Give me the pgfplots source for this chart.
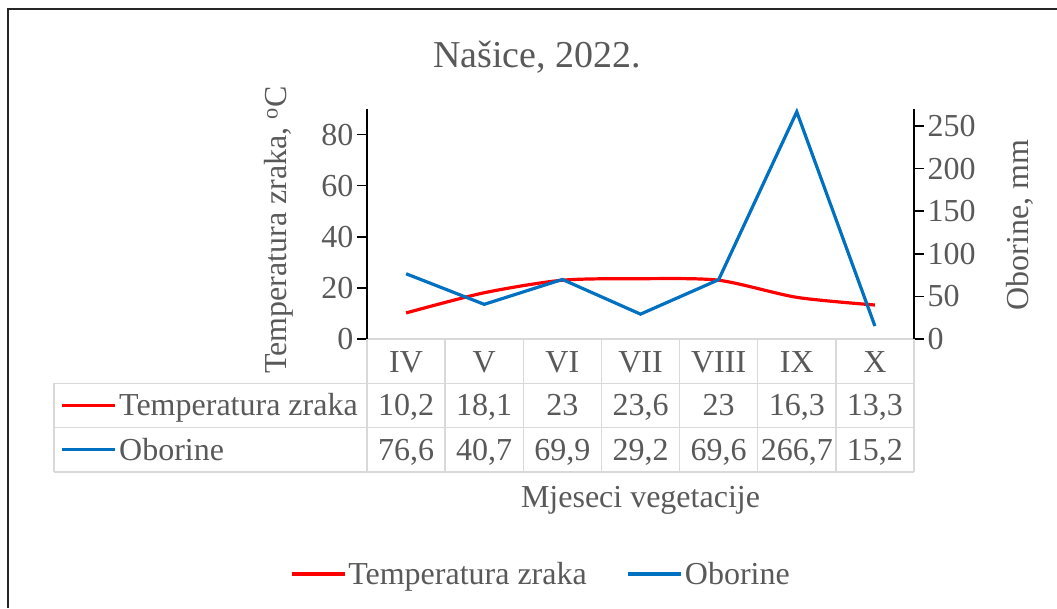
\documentclass[border=0pt]{standalone}
\usepackage{pgfplots}
\pgfplotsset{compat=1.18}
\usepackage{pgfplotstable}
\usepackage{fontspec}
\setmainfont{Liberation Serif}
\definecolor{txt}{HTML}{595959}
\definecolor{gridc}{HTML}{D9D9D9}
\definecolor{ored}{HTML}{FF0000}
\definecolor{oblue}{HTML}{0070C0}

\pgfplotstableread{
x lab temp obor
0 IV 10.2 76.6
1 V 18.1 40.7
2 VI 23 69.9
3 VII 23.6 29.2
4 VIII 23 69.6
5 IX 16.3 266.7
6 X 13.3 15.2
}\data

\newcommand\fs{\fontsize{32}{37}\selectfont}
\pgfkeys{/pgf/number format/assume math mode=true}

\pgfplotsset{common/.style={
  scale only axis, width=547pt, height=230pt,
  at={(0pt,0pt)}, anchor=south west,
  xmin=-0.5, xmax=6.5, xtick={0,...,6},
  /pgf/number format/assume math mode=true,
  tick label style={font=\fs, text=txt},
  label style={font=\fs, text=txt},
  clip=false,
  tick align=outside,
  major tick length=10pt,
}}

\begin{document}
\begin{tikzpicture}
\path[use as bounding box] (-367pt,-269pt) rectangle (690pt,339pt);

\begin{axis}[common,
  axis y line*=left, axis x line*=bottom,
  x axis line style={draw=gridc, line width=1.5pt, -},
  y axis line style={black, line width=1.5pt, -},
  ytick style={black, line width=1.5pt},
  xtick style={draw=none},
  ymin=0, ymax=90, ytick={0,20,...,80},
  xticklabels from table={\data}{lab},
  xticklabel style={anchor=base, yshift=-23.8pt},
  ylabel={Temperatura zraka, \textsuperscript{o}C},
  ylabel style={at={(axis description cs:-0.161,0.474)}, anchor=center},
]
\addplot[ored, line width=3.2pt, smooth, tension=0.45] table[x=x,y=temp]{\data};
\end{axis}

\begin{axis}[common,
  axis y line*=right, axis x line=none,
  y axis line style={black, line width=1.5pt, -},
  ytick style={black, line width=1.5pt},
  ymin=0, ymax=270, ytick={0,50,...,250},
  ylabel={Oborine, mm},
  ylabel style={at={(axis description cs:1.194,0.496)}, anchor=center},
  legend style={at={(axis description cs:0.318,-1.0217)}, anchor=center,
    draw=none, fill=none, legend columns=2, font=\fs, text=txt,
    /tikz/every even column/.append style={column sep=38pt}},
  legend cell align=left,
  legend image code/.code={\draw[#1] (0pt,0pt)--(53pt,0pt);},
]
\addlegendimage{ored, line width=3.2pt}
\addlegendentry{Temperatura zraka}
\addplot[oblue, line width=3.2pt] table[x=x,y=obor]{\data};
\addlegendentry{Oborine}
\end{axis}

\begin{scope}[x=1pt, y=1pt]
  % table grid
  \draw[gridc, line width=1.5pt]
    (-313,-44.3) -- (547,-44.3)
    (-313,-88.6) -- (547,-88.6)
    (-313,-133) -- (547,-133)
    (-313,-44.3) -- (-313,-133);
  \foreach \i in {0,...,7} {
    \draw[gridc, line width=1.5pt] ({\i*78.142857},0) -- ({\i*78.142857},-133);
  }
  % values
  \foreach \i in {0,...,6} {
    \pgfplotstablegetelem{\i}{temp}\of\data
    \node[font=\fs, text=txt, anchor=base, inner sep=0] at ({(\i+0.5)*78.142857},-76.95) {\pgfmathprintnumber[use comma]{\pgfplotsretval}};
    \pgfplotstablegetelem{\i}{obor}\of\data
    \node[font=\fs, text=txt, anchor=base, inner sep=0] at ({(\i+0.5)*78.142857},-121.3) {\pgfmathprintnumber[use comma]{\pgfplotsretval}};
  }
  % row keys
  \draw[ored, line width=3.2pt] (-305,-66.45) -- (-252,-66.45);
  \node[font=\fs, text=txt, anchor=base west, inner sep=0] at (-248,-76.95) {Temperatura zraka};
  \draw[oblue, line width=3.2pt] (-305,-110.8) -- (-252,-110.8);
  \node[font=\fs, text=txt, anchor=base west, inner sep=0] at (-248,-121.3) {Oborine};
  % x title
  \node[font=\fs, text=txt, anchor=base] at (273.5,-168.5) {Mjeseci vegetacije};
  % chart title
  \node[font=\fontsize{38}{44}\selectfont, text=txt, anchor=base] at (170,271.5) {Našice, 2022.};
  % border
  \draw[black!85, line width=1.5pt] (-359,-269) -- (-359,330) -- (690,330);
\end{scope}
\end{tikzpicture}
\end{document}
